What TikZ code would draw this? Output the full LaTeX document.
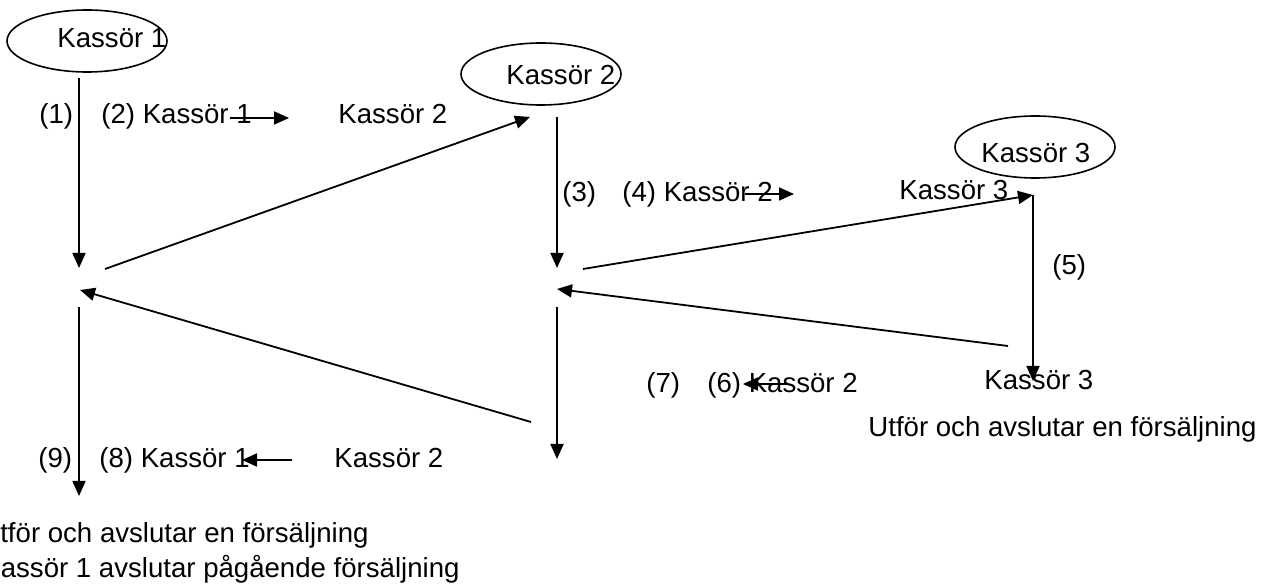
\documentclass[tikz,border=0pt]{standalone}
\usepackage{fontspec}
\setmainfont{Liberation Sans}
\usetikzlibrary{arrows.meta,shapes.geometric}

\tikzset{
  cashier/.style={ellipse,draw,line width=0.8pt,minimum width=80pt,minimum height=31pt,inner sep=0pt},
  txt/.style={anchor=base west,inner sep=0pt,font=\fontsize{13.8}{16}\selectfont},
  flow/.style={-{Triangle[length=7.5pt,width=6.5pt]},line width=0.9pt}
}

\begin{document}
\begin{tikzpicture}[x=0.5pt,y=-0.5pt]
  \useasboundingbox (0,0) rectangle (1270,587);
  % kassorer
  \node[cashier] (k1) at (87,41) {};
  \node[cashier] (k2) at (541,74) {};
  \node[cashier] (k3) at (1035,147) {};
  \node[txt] (k1t) at (57,48) {Kassör 1};
  \node[txt] (k2t) at (506,85) {Kassör 2};
  \node[txt] (k3t) at (981,163) {Kassör 3};

  % steg
  \node[txt] (l1) at (39,124) {(1)};
  \node[txt] (l2) at (101,124) {(2) Kassör 1};
  \node[txt] (l2b) at (338,124) {Kassör 2};
  \node[txt] (l3) at (562,202) {(3)};
  \node[txt] (l4) at (622,202) {(4) Kassör 2};
  \node[txt] (l4b) at (899,200) {Kassör 3};
  \node[txt] (l5) at (1052,275) {(5)};
  \node[txt] (l7) at (646,393) {(7)};
  \node[txt] (l6) at (707,393) {(6) Kassör 2};
  \node[txt] (l6b) at (984,390) {Kassör 3};
  \node[txt] (l6c) at (868,437) {Utför och avslutar en försäljning};
  \node[txt] (l9) at (38,468) {(9)};
  \node[txt] (l8) at (99,468) {(8) Kassör 1};
  \node[txt] (l8b) at (334,468) {Kassör 2};
  \node[txt] (f1) at (-20,543) {Utför och avslutar en försäljning};
  \node[txt] (f2) at (-18,578) {Kassör 1 avslutar pågående försäljning};

  % pilarnas ändpunkter
  \coordinate (s1) at (79,78);
  \coordinate (p1) at (79,268);
  \coordinate (q1) at (105,269);
  \coordinate (t2) at (530,117);
  \coordinate (s2) at (557,117);
  \coordinate (p2) at (557,268);
  \coordinate (q2) at (583,269);
  \coordinate (t3) at (1033,195);
  \coordinate (e3) at (1033,381);
  \coordinate (r3) at (1008,346);
  \coordinate (m2) at (557,289);
  \coordinate (u2) at (557,307);
  \coordinate (d2) at (557,459);
  \coordinate (r2) at (531,422);
  \coordinate (m1) at (80,290);
  \coordinate (u1) at (79,307);
  \coordinate (d1) at (79,496);
  \coordinate (h2a) at (230,118);
  \coordinate (h2b) at (289,118);
  \coordinate (h4a) at (745,194);
  \coordinate (h4b) at (794,194);
  \coordinate (h6a) at (787,384);
  \coordinate (h6b) at (743,384);
  \coordinate (h8a) at (292,460);
  \coordinate (h8b) at (242,460);

\foreach \from/\to in
{s1/p1, q1/t2, s2/p2, q2/t3, t3/e3, r3/m2, u2/d2, r2/m1, u1/d1,
 h2a/h2b, h4a/h4b, h6a/h6b, h8a/h8b}
    \draw[flow] (\from) -- (\to);

\end{tikzpicture}
\end{document}
